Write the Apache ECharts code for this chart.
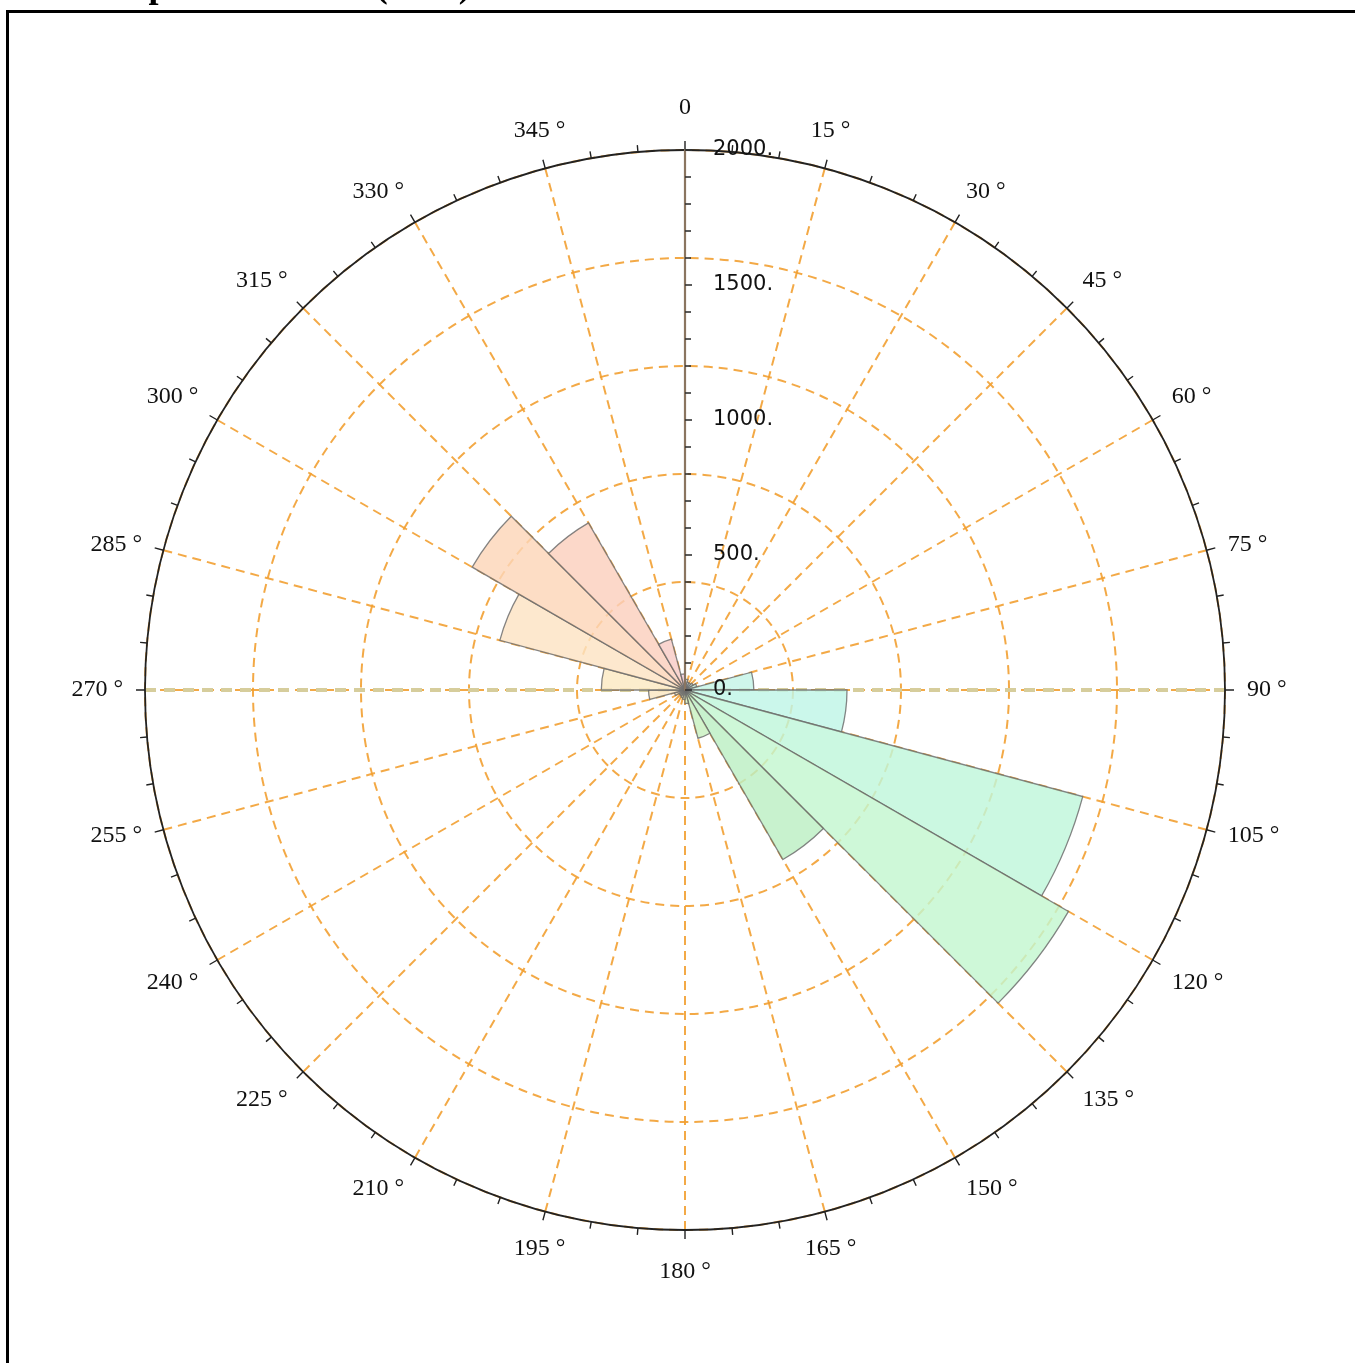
<!DOCTYPE html>
<html><head><meta charset="utf-8">
<script src="https://cdn.jsdelivr.net/npm/echarts@6/dist/echarts.min.js"></script>
<style>html,body{margin:0;padding:0;background:#fff}#c{width:1355px;height:1363px}</style>
</head><body><div id="c"></div>
<script>
// sector start directions (degrees, clockwise from north), each sector 15° wide
const sectorStarts = ['0','15','30','45','60','75','90','105','120','135','150','165',
                      '180','195','210','225','240','255','270','285','300','315','330','345'];
// counts per sector
const sectorValues = [40, 30, 30, 35, 45, 255, 600, 1525, 1640, 725, 185, 50,
                      35, 30, 25, 25, 40, 135, 310, 710, 910, 715, 195, 60];
// fill colours per sector
const sectorColors = ['#cfe3f7','#cfeaf7','#cdf0f5','#c9f3ee','#c6f4e8','#c4f4e6','#bff5e6','#c0f6db',
                      '#c3f7d0','#bcefc3','#c8f0bf','#d8f2bf','#e6f3bf','#eef2bf','#f3efbf','#f6ebbf',
                      '#f8e6bf','#fae6c2','#fbe9c2','#fde3c3','#fcd6b8','#fbd0bd','#f8ccc6','#f0cde0'];
const radiusTicks = {min: 0, max: 2000, labelStep: 500, gridStep: 400, minorSplit: 5};
const angleTicks = {min: 0, max: 360, step: 15, minorSplit: 3};

const C = [685, 690], R = 540;
const orange = 'rgba(242,160,50,0.9)';
function angleLabel(v) {
  if (v === 360) return '';
  const t = v === 0 ? '0' : v + ' °';
  if (v === 0 || v === 345 || v === 15) return '{up' + (v === 0 ? '2' : '1') + '|' + t + '}';
  if (v === 180 || v === 165 || v === 195) return '{dn' + (v === 180 ? '2' : '1') + '|' + t + '}';
  return '{n|' + t + '}';
}
const lblFont = {fontFamily: 'Liberation Serif', fontSize: 24, color: '#111'};
const chart = echarts.init(document.getElementById('c'), null, {renderer: 'canvas'});
const option = {
  animation: false,
  backgroundColor: '#ffffff',
  title: {
    text: 'Wind speed direction (Stat.)', left: 40, top: -30, padding: 0,
    textStyle: {fontFamily: 'Liberation Serif', fontWeight: 'bold', fontSize: 36, color: '#000'}
  },
  graphic: [{
    type: 'rect', silent: true, z: 100,
    shape: {x: 7.5, y: 11.5, width: 1400, height: 1400},
    style: {fill: null, stroke: '#000', lineWidth: 3}
  }],
  polar: [
    {center: C, radius: R},
    {center: C, radius: R},
    {center: C, radius: R}
  ],
  angleAxis: [
    {
      polarIndex: 0, type: 'category', data: sectorStarts, startAngle: 90, clockwise: true,
      boundaryGap: true, axisLine: {show: false}, axisTick: {show: false},
      axisLabel: {show: false}, splitLine: {show: false}
    },
    {
      polarIndex: 1, type: 'value', min: angleTicks.min, max: angleTicks.max, interval: angleTicks.step,
      startAngle: 90, clockwise: true,
      axisLine: {show: true, lineStyle: {color: '#222', width: 1.8}},
      axisTick: {show: true, length: 9, lineStyle: {color: '#222', width: 1.4}},
      minorTick: {show: true, splitNumber: angleTicks.minorSplit, length: 7, lineStyle: {color: '#222', width: 1.4}},
      axisLabel: {
        margin: 22, formatter: angleLabel, ...lblFont,
        rich: {
          n: lblFont,
          up1: {...lblFont, padding: [0, 0, 4, 0]},
          up2: {...lblFont, padding: [0, 0, 8, 0]},
          dn1: {...lblFont, padding: [4, 0, 0, 0]},
          dn2: {...lblFont, padding: [8, 0, 0, 0]}
        }
      },
      splitLine: {show: true, lineStyle: {color: orange, width: 2, type: [9, 6]}}
    },
    {
      polarIndex: 2, type: 'value', min: 0, max: 360, interval: 90, startAngle: 90, clockwise: true,
      axisLine: {show: false}, axisTick: {show: false}, axisLabel: {show: false},
      splitLine: {show: true, lineStyle: {
        color: ['rgba(0,0,0,0)', '#d6cd9c', 'rgba(0,0,0,0)', '#d6cd9c'], width: 4, type: [11, 8]}}
    }
  ],
  radiusAxis: [
    {polarIndex: 0, min: radiusTicks.min, max: radiusTicks.max, show: false},
    {
      polarIndex: 1, min: radiusTicks.min, max: radiusTicks.max, interval: radiusTicks.gridStep,
      axisLine: {show: false}, axisTick: {show: false}, axisLabel: {show: false},
      splitLine: {show: true, lineStyle: {color: orange, width: 2, type: [9, 6]}}
    },
    {
      polarIndex: 2, z: 10, min: radiusTicks.min, max: radiusTicks.max, interval: radiusTicks.labelStep,
      axisLine: {show: true, lineStyle: {color: '#8a7560', width: 2.2}},
      axisTick: {show: true, length: -7, lineStyle: {color: '#333', width: 1.6}},
      minorTick: {show: true, splitNumber: radiusTicks.minorSplit, length: -6, lineStyle: {color: '#333', width: 1.6}},
      axisLabel: {margin: -28, align: 'left', fontFamily: 'DejaVu Sans', fontSize: 21, color: '#111', formatter: v => v + '.'},
      splitLine: {show: false}
    }
  ],
  series: [{
    type: 'bar', coordinateSystem: 'polar', polarIndex: 0, barCategoryGap: '0%', z: 5,
    itemStyle: {borderColor: '#6a6a6a', borderWidth: 1.3, opacity: 0.82},
    data: sectorValues.map((v, i) => ({value: v, itemStyle: {color: sectorColors[i]}}))
  }]
};
chart.setOption(option);
</script></body></html>
